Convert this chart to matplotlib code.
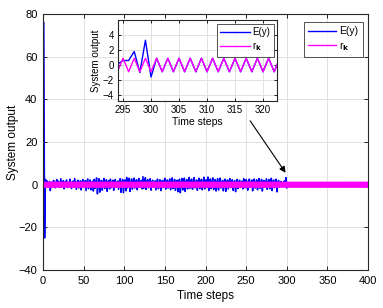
import numpy as np
import matplotlib
matplotlib.use("Agg")
import matplotlib.pyplot as plt

plt.rcParams['font.family'] = ['Liberation Sans', 'DejaVu Sans']

# ---- data ----
# E(y): initial transient (steps 1,2)
E_head = [76.0, -25.0]
# E(y): steps 3..293
E_noise = [
    2.5, -0.5, 1.8, -1.2, 0.8, 1.5, -2.8, 0.6, 1.2, -1.0, 2.0, 0.4, -1.5, 1.1, 2.4, -0.8, 1.6, -1.3, 0.9, 2.8,
    -1.1, 0.7, 1.9, -2.0, 1.3, 0.5, 2.2, -1.4, 1.0, -0.6, 2.6, 1.2, -1.8, 0.8, 1.7, -1.0, 2.9, 0.3, -2.2, 1.4,
    2.1, -1.6, 0.9, 1.8, -2.5, 1.2, 2.4, -1.1, 0.6, 1.9, -2.8, 1.5, 2.7, -1.9, 1.0, 2.2, -2.4, 0.8, 1.6, -3.0,
    2.5, -1.7, 1.3, 3.2, -4.3, 0.9, 2.8, -3.5, 1.4, 2.0, -2.6, 1.1, 2.9, -1.8, 0.7, 2.3, -3.1, 1.5, 1.9, -2.0,
    2.6, -1.4, 0.8, 2.1, -2.7, 1.3, 2.4, -1.2, 0.9, 1.7, -2.2, 1.6, 2.8, -3.6, 1.0, 2.5, -3.8, 1.8, 2.2, -2.9,
    3.4, -1.5, 1.2, 3.0, -3.2, 0.8, 2.7, -2.1, 1.5, 3.1, -1.6, 1.0, 2.3, -2.4, 1.4, 2.9, -1.3, 0.7, 2.0, -2.0,
    3.8, -1.7, 1.1, 3.3, -2.3, 1.6, 2.4, -1.5, 0.9, 2.8, -2.6, 1.3, 2.1, -1.2, 0.6, 1.8, -2.5, 1.5, 2.6, -1.9,
    1.2, 2.3, -2.8, 1.0, 2.0, -1.4, 1.7, 3.0, -2.1, 0.8, 2.2, -1.6, 1.4, 2.7, -2.4, 1.1, 3.2, -1.8, 0.9, 2.5,
    -2.7, 1.5, 2.1, -3.3, 1.2, 2.6, -3.8, 0.9, 2.9, -2.5, 1.6, 3.1, -3.2, 1.3, 2.4, -2.0, 1.0, 3.4, -1.7, 1.8,
    2.6, -2.2, 1.1, 3.3, -1.5, 0.8, 2.2, -2.6, 1.4, 3.0, -1.8, 1.2, 2.5, -2.4, 0.9, 3.5, -2.0, 1.6, 2.3, -1.3,
    3.6, -2.8, 1.0, 2.7, -1.9, 1.5, 3.2, -2.3, 0.8, 2.4, -3.0, 1.3, 2.8, -2.5, 1.1, 3.1, -1.6, 0.7, 2.0, -2.9,
    1.4, 2.6, -3.1, 1.0, 2.2, -2.0, 1.7, 2.9, -1.4, 0.9, 2.3, -2.7, 1.2, 1.9, -3.3, 0.8, 2.5, -1.8, 1.3, 2.1,
    -1.2, 0.9, 1.7, -2.0, 2.8, 1.1, -1.5, 2.4, 0.7, -2.6, 1.9, 2.6, -1.3, 1.0, 2.2, -2.9, 1.4, 2.7, -1.6, 0.8,
    2.3, -2.4, 1.2, 2.9, -1.7, 0.6, 2.5, -3.0, 1.5, 2.0, -1.1, 0.9, 2.8, -2.2, 1.3, 2.4, -1.9, 1.0, 3.0, -2.8,
    1.6, 2.2, -1.4, 0.8, 2.6, -3.4, 1.1, 2.0, -1.2, 0.7, 1.5,
]
# E(y): steps 294..301
E_tail = [0.1, 0.6, 0.6, 1.8, -1.0, 3.3, -1.6, 0.9]
# reference r_k: alternates between these two levels (even step, odd step)
rk_levels = [-0.9, 0.9]
last_step = 400

x_ticks_main = [0, 50, 100, 150, 200, 250, 300, 350, 400]
y_ticks_main = [-40, -20, 0, 20, 40, 60, 80]
x_ticks_in = [295, 300, 305, 310, 315, 320]
y_ticks_in = [-4, -2, 0, 2, 4]

# ---- build series ----
steps = np.arange(0, last_step + 1)
rk = np.array([rk_levels[k % 2] for k in steps])
E_first = np.array(E_head + E_noise + E_tail)
n_first = len(E_first)
E_steps = np.arange(1, last_step + 1)
E = np.concatenate([E_first, rk[n_first + 1:]])

BLUE = '#0000FF'
MAG = '#FF00FF'
GRID = '#dcdcdc'
EDGE = '#262626'


def style_legend(leg):
    leg.get_frame().set_linewidth(0.7)
    for ln in leg.get_lines():
        ln.set_linewidth(1.0)


fig = plt.figure(figsize=(3.83, 3.08), dpi=100)
ax = fig.add_axes([43/383, 38/308, 325/383, 256/308])
ax.plot(E_steps, E, color=BLUE, lw=1.1, label='E(y)')
ax.plot(steps, rk, color=MAG, lw=1.8, label=r'r$_{\mathbf{k}}$')
ax.set_xlim(0, 400)
ax.set_ylim(-40, 80)
ax.set_xticks(x_ticks_main)
ax.set_yticks(y_ticks_main)
ax.grid(True, color=GRID, lw=0.6)
ax.set_axisbelow(True)
ax.tick_params(direction='in', top=True, right=True, labelsize=8, length=3, width=0.6, pad=4)
for s in ax.spines.values():
    s.set_linewidth(0.8)
    s.set_color(EDGE)
ax.set_xlabel('Time steps', fontsize=8.5, labelpad=3)
ax.set_ylabel('System output', fontsize=8.5, labelpad=0)

leg = ax.legend(loc='upper left', bbox_to_anchor=(304/383, 1 - 22/308), bbox_transform=fig.transFigure,
                fontsize=7.5, frameon=True, fancybox=False, edgecolor=EDGE, handlelength=2.7,
                borderpad=0.4, labelspacing=0.35, handletextpad=0.3, borderaxespad=0)
style_legend(leg)

ax.annotate('', xy=(300.5, 4.5), xytext=(253, 31),
            arrowprops=dict(arrowstyle='-|>', color='black', lw=0.8, mutation_scale=9))

# ---- inset ----
axi = fig.add_axes([118/383, 1 - 101/308, 159/383, 81/308])
axi.plot(E_steps, E, color=BLUE, lw=1.0, label='E(y)')
axi.plot(steps, rk, color=MAG, lw=1.0, label=r'r$_{\mathbf{k}}$')
axi.set_xlim(294.1, 322.5)
axi.set_ylim(-4.8, 6)
axi.set_xticks(x_ticks_in)
axi.set_yticks(y_ticks_in)
axi.grid(True, color=GRID, lw=0.6)
axi.set_axisbelow(True)
axi.tick_params(direction='in', top=True, right=True, labelsize=7, length=2.5, width=0.6, pad=3)
for s in axi.spines.values():
    s.set_linewidth(0.8)
    s.set_color(EDGE)
axi.set_xlabel('Time steps', fontsize=7.5, labelpad=1)
axi.set_ylabel('System output', fontsize=7, labelpad=1)
legi = axi.legend(loc='upper left', bbox_to_anchor=(217/383, 1 - 24/308), bbox_transform=fig.transFigure,
                  fontsize=7, frameon=True, fancybox=False, edgecolor=EDGE, handlelength=3.0,
                  borderpad=0.35, labelspacing=0.3, handletextpad=0.3, borderaxespad=0)
style_legend(legi)

fig.savefig('out.png', dpi=100)
